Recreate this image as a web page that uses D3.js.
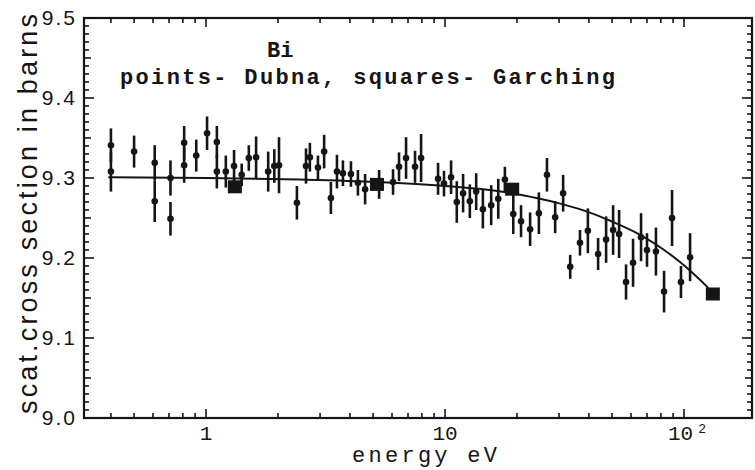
<!DOCTYPE html>
<html>
<head>
<meta charset="utf-8">
<script src="https://cdn.jsdelivr.net/npm/d3@7"></script>
<style>
  body { margin: 0; background: #fff; }
  svg { display: block; }
</style>
</head>
<body>
<div id="chart"></div>
<script>
// Dubna points (energy in eV, cross section in barns, error)
var energy = [0.40,0.40,0.50,0.61,0.61,0.71,0.71,0.81,0.81,0.91,1.01,1.11,1.11,1.21,1.31,1.41,1.51,1.62,1.82,1.93,
  2.02,2.40,2.62,2.72,2.94,3.12,3.33,3.53,3.74,4.04,4.32,4.63,5.30,6.06,6.42,6.87,7.49,7.94,9.35,9.9,
  10.6,11.2,11.9,12.7,13.5,14.4,15.6,16.7,17.8,19.3,20.8,22.7,24.7,26.7,28.9,31.2,33.4,36.7,39.6,43.7,
  47.2,50.5,53.5,57.2,61.2,66.1,70.0,76.3,82.5,89.1,97.1,106];
var sigma = [9.341,9.308,9.333,9.319,9.271,9.300,9.249,9.344,9.316,9.328,9.356,9.345,9.308,9.308,9.315,9.304,9.325,9.326,9.308,9.315,
  9.316,9.269,9.315,9.326,9.313,9.333,9.275,9.308,9.306,9.305,9.294,9.286,9.292,9.295,9.314,9.325,9.314,9.325,9.299,9.293,
  9.301,9.270,9.281,9.271,9.283,9.261,9.266,9.274,9.298,9.255,9.246,9.236,9.256,9.304,9.251,9.281,9.189,9.219,9.234,9.205,
  9.223,9.235,9.230,9.170,9.194,9.226,9.210,9.208,9.158,9.250,9.170,9.201];
var errs = [0.021,0.025,0.020,0.022,0.026,0.022,0.021,0.021,0.022,0.020,0.021,0.020,0.021,0.020,0.020,0.014,0.016,0.026,0.025,0.021,
  0.035,0.021,0.022,0.018,0.015,0.021,0.020,0.021,0.016,0.016,0.016,0.019,0.018,0.016,0.018,0.026,0.020,0.030,0.020,0.016,
  0.021,0.026,0.024,0.021,0.023,0.024,0.025,0.025,0.016,0.025,0.020,0.021,0.026,0.021,0.020,0.023,0.015,0.016,0.028,0.020,
  0.029,0.031,0.030,0.022,0.030,0.030,0.021,0.030,0.026,0.035,0.020,0.030];

// Garching squares
var sqEnergy = [1.32, 5.19, 19.1, 132];
var sqSigma = [9.289, 9.292, 9.286, 9.155];

// fitted curve
var fitEnergy = [0.39, 1.0, 2.47, 5.19, 10, 18.2, 24.9, 31.2, 39.3, 50.5, 65.5, 81.7, 96.2, 109, 122, 132];
var fitSigma = [9.301, 9.300, 9.298, 9.295, 9.290, 9.282, 9.274, 9.267, 9.258, 9.245, 9.229, 9.211, 9.195, 9.181, 9.167, 9.156];

var yTicks = [9.0, 9.1, 9.2, 9.3, 9.4, 9.5];
var xMajor = [1, 10, 100];

var W = 755, H = 470;
var mLeft = 84, mRight = 752, mTop = 18, mBottom = 418;
var ink = "#151515";

var svg = d3.select("#chart").append("svg")
  .attr("width", W)
  .attr("height", H);

var x = d3.scaleLog().domain([0.3086, 192.5]).range([mLeft, mRight]);
var y = d3.scaleLinear().domain([9.0, 9.5]).range([mBottom, mTop]);

// frame
svg.append("rect")
  .attr("x", mLeft).attr("y", mTop)
  .attr("width", mRight - mLeft).attr("height", mBottom - mTop)
  .attr("fill", "none").attr("stroke", ink).attr("stroke-width", 2.2);

// y ticks every 0.01, both sides, inward
var yMinor = d3.range(0, 51).map(function(i){ return 9.0 + i * 0.01; });
var ticksG = svg.append("g").attr("stroke", ink).attr("stroke-width", 1.6);
yMinor.forEach(function(v, i){
  var len = (i % 10 == 0) ? 10 : (i % 5 == 0 ? 7 : 5);
  ticksG.append("line").attr("x1", mLeft).attr("x2", mLeft + len)
    .attr("y1", y(v)).attr("y2", y(v));
  ticksG.append("line").attr("x1", mRight).attr("x2", mRight - len)
    .attr("y1", y(v)).attr("y2", y(v));
});

// x ticks (log), bottom and top
x.ticks().forEach(function(t){
  var major = xMajor.indexOf(t) != -1;
  var len = major ? 9 : 5;
  ticksG.append("line").attr("x1", x(t)).attr("x2", x(t))
    .attr("y1", mBottom).attr("y2", mBottom - len);
  ticksG.append("line").attr("x1", x(t)).attr("x2", x(t))
    .attr("y1", mTop).attr("y2", mTop + len);
});

// y tick labels
svg.append("g").selectAll("text")
  .data(yTicks)
  .enter().append("text")
  .attr("x", 77)
  .attr("y", function(d){ return y(d) + 7; })
  .attr("text-anchor", "end")
  .attr("font-family", "Liberation Sans, Arial, sans-serif")
  .attr("font-size", 21)
  .attr("letter-spacing", 2)
  .attr("fill", ink)
  .text(function(d){ return d.toFixed(1); });

// x tick labels
var monoFont = "Liberation Mono, Courier New, monospace";
svg.append("text").attr("x", x(1)).attr("y", 440)
  .attr("text-anchor", "middle").attr("font-family", monoFont)
  .attr("font-size", 21).attr("fill", ink).text("1");
svg.append("text").attr("x", x(10)).attr("y", 440)
  .attr("text-anchor", "middle").attr("font-family", monoFont)
  .attr("font-size", 21).attr("fill", ink).text("10");
var hund = svg.append("text").attr("x", x(100) - 16).attr("y", 440)
  .attr("font-family", monoFont).attr("font-size", 21).attr("fill", ink);
hund.append("tspan").text("10");
hund.append("tspan").attr("dx", 5).attr("dy", -7).attr("font-size", 13).text("2");

// axis titles
svg.append("text")
  .attr("transform", "translate(37,214) rotate(-90)")
  .attr("text-anchor", "middle")
  .attr("font-family", "Liberation Sans, Arial, sans-serif")
  .attr("font-size", 27)
  .attr("textLength", 400)
  .attr("lengthAdjust", "spacing")
  .attr("fill", ink)
  .text("scat.cross section in barns");

svg.append("text")
  .attr("x", 352).attr("y", 462)
  .attr("font-family", monoFont)
  .attr("font-size", 22)
  .attr("textLength", 145)
  .attr("lengthAdjust", "spacing")
  .attr("fill", ink)
  .text("energy eV");

// annotations
svg.append("text")
  .attr("x", 267).attr("y", 57)
  .attr("font-family", monoFont)
  .attr("font-size", 22)
  .attr("font-weight", "bold")
  .attr("fill", ink)
  .text("Bi");

svg.append("text")
  .attr("x", 120).attr("y", 84)
  .attr("font-family", monoFont)
  .attr("font-size", 22)
  .attr("font-weight", "bold")
  .attr("textLength", 495)
  .attr("lengthAdjust", "spacing")
  .attr("fill", ink)
  .text("points- Dubna, squares- Garching");

// fitted curve
var fit = fitEnergy.map(function(e, i){ return [x(e), y(fitSigma[i])]; });
svg.append("path")
  .attr("d", d3.line().curve(d3.curveMonotoneX)(fit))
  .attr("fill", "none")
  .attr("stroke", ink)
  .attr("stroke-width", 2);

// error bars + points
var pts = energy.map(function(e, i){ return {e: e, s: sigma[i], err: errs[i]}; });
var pg = svg.append("g");
pg.selectAll("line")
  .data(pts)
  .enter().append("line")
  .attr("x1", function(d){ return x(d.e); })
  .attr("x2", function(d){ return x(d.e); })
  .attr("y1", function(d){ return y(d.s - d.err); })
  .attr("y2", function(d){ return y(d.s + d.err); })
  .attr("stroke", ink)
  .attr("stroke-width", 2.6);
pg.selectAll("circle")
  .data(pts)
  .enter().append("circle")
  .attr("cx", function(d){ return x(d.e); })
  .attr("cy", function(d){ return y(d.s); })
  .attr("r", 3.3)
  .attr("fill", ink);

// squares
svg.append("g").selectAll("rect")
  .data(sqEnergy)
  .enter().append("rect")
  .attr("x", function(d){ return x(d) - 7; })
  .attr("y", function(d, i){ return y(sqSigma[i]) - 6.5; })
  .attr("width", 14)
  .attr("height", 13)
  .attr("fill", ink);
</script>
</body>
</html>
